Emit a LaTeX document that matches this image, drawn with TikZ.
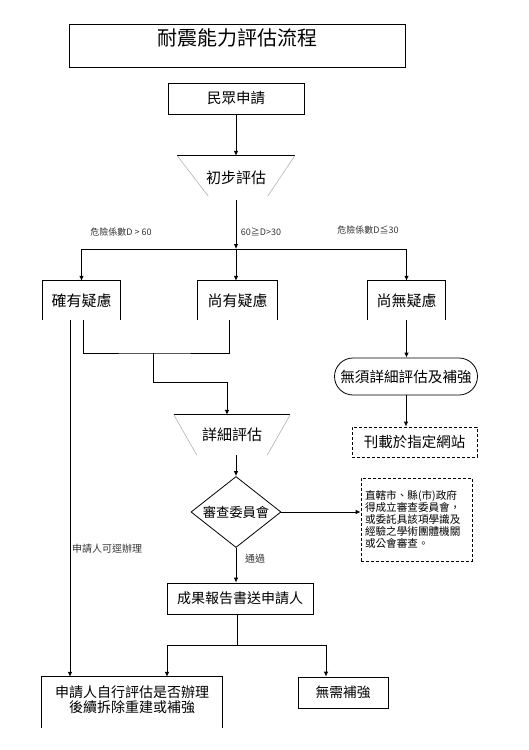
\documentclass[tikz,border=0pt]{standalone}
\usepackage{fontspec}
\setmainfont{Noto Sans CJK TC}
\usetikzlibrary{arrows.meta,shapes.misc,shapes.geometric}
\newcommand\myfs[1]{\fontsize{#1pt}{#1pt}\selectfont}
\newcommand\myfsb[2]{\fontsize{#1pt}{#2pt}\selectfont}
\begin{document}
\begin{tikzpicture}[x=1pt,y=-1pt,
  ln/.style={line width=0.8pt},
  arr/.style={line width=0.8pt,-{Latex[length=5pt,width=4.5pt]}},
  box/.style={draw,line width=0.8pt,inner sep=0pt,minimum height=31pt},
  ghost/.style={inner sep=0pt},
  dbox/.style={draw,line width=0.8pt,dash pattern=on 3pt off 2pt,inner sep=0pt},
  lbl/.style={inner sep=0pt,font=\myfs{9},text=black!80},
  side/.style={line width=0.6pt,draw=gray!60}]
\useasboundingbox (0,0) rectangle (528,750);

% title
\node[draw,line width=0.8pt,minimum width=336pt,minimum height=43pt,inner sep=0pt] (title) at (237,45.5) {};
\node[ghost,font=\myfs{20}] (titlet) at (237,38) {耐震能力評估流程};

% apply
\node[box,minimum width=136pt,font=\myfs{14.5}] (apply) at (236,98.5) {民眾申請};

% preliminary (trapezoid, open bottom)
\node[ghost,minimum width=117pt,minimum height=44pt,font=\myfs{15}] (prelim) at (236,178) {初步評估};
\draw[ln] (prelim.north west) -- (prelim.north east);
\draw[side] (prelim.north west) -- ([xshift=31pt,yshift=4pt]prelim.south west);
\draw[side] (prelim.north east) -- ([xshift=-27pt,yshift=4pt]prelim.south east);
\draw[arr] (apply.south) -- (prelim.north);

% branch
\coordinate (bL) at (81.5,249);
\coordinate (bM) at (236,249);
\coordinate (bR) at (406.5,249);
\draw[ln] (bL) -- (bR);
\draw[arr] (prelim.south) -- (bM);

\node[lbl] (l1) at (121,232) {危險係數D > 60};
\node[lbl] (l2) at (261,232) {60≧D>30};
\node[lbl] (l3) at (368,230) {危險係數D≦30};

% three open-bottom boxes
\node[ghost,minimum width=77pt,minimum height=39pt,font=\myfs{15}] (b1) at (81.5,300.5) {確有疑慮};
\node[ghost,minimum width=79pt,minimum height=39pt,font=\myfs{15}] (b2) at (237.5,300.5) {尚有疑慮};
\node[ghost,minimum width=77pt,minimum height=39pt,font=\myfs{15}] (b3) at (406.5,300.5) {尚無疑慮};
\foreach \b in {b1,b2,b3}{
  \draw[ln] (\b.south west) -- (\b.north west) -- (\b.north east) -- (\b.south east);
}
\draw[arr] (bL) -- (b1.north);
\draw[arr] (bM) -- (bM |- b2.north);
\draw[arr] (bR) -- (b3.north);

% merge of b1 and b2 into detailed evaluation
\coordinate (m1) at (153,353);
\coordinate (m2) at (153,382);
\draw[ln] ([xshift=2pt]b1.south) |- (m1) -| ([xshift=-8.5pt]b2.south);

\node[ghost,minimum width=116pt,minimum height=40pt,font=\myfs{15}] (detail) at (232,435) {詳細評估};
\draw[ln] (detail.north west) -- (detail.north east);
\draw[side] (detail.north west) -- ([xshift=23pt]detail.south west);
\draw[side] (detail.north east) -- ([xshift=-23pt]detail.south east);
\draw[arr] (m1) -- (m2) -| ([xshift=-5pt]detail.north);

% review committee diamond
\node[diamond,draw,line width=0.8pt,inner sep=0pt,aspect=1.27,minimum width=90pt,minimum height=71pt,font=\myfs{13.3}] (rev) at (236,512) {審查委員會};
\draw[arr] ([xshift=4pt]detail.south) -- (rev.north);

% note
\node[dbox,minimum width=111pt,minimum height=83pt,text width=103pt,align=left,inner xsep=4pt,font=\myfsb{10.6}{12.2}] (note) at (416.5,519.5) {直轄市、縣(市)政府\\得成立審查委員會，\\或委託具該項學識及\\經驗之學術團體機關\\或公會審查。};
\draw[arr] (rev.east) -- (rev.east -| note.west);

% pass
\node[lbl,font=\myfs{10}] (pass) at (255,559) {通過};
\node[box,minimum width=146pt,font=\myfs{14}] (res) at (240,598.5) {成果報告書送申請人};
\draw[arr] (rev.south) -- (rev.south |- res.north);

% final boxes
\node[ghost,minimum width=180pt,minimum height=51pt] (fin1) at (132,702.5) {};
\node[ghost,align=center,font=\myfsb{14}{15.5}] (fin1t) at (132,699.5) {申請人自行評估是否辦理\\後續拆除重建或補強};
\draw[ln] (fin1.south west) -- (fin1.north west) -- (fin1.north east) -- (fin1.south east);
\node[box,minimum width=90pt,font=\myfs{13.75}] (fin2) at (343,692.5) {無需補強};

\coordinate (j2) at (237,645);
\draw[ln] (j2 |- res.south) -- (j2);
\draw[arr] (j2) -| ([xshift=35pt]fin1.north);
\draw[arr] (j2) -| ([xshift=-17pt]fin2.north);

% direct path
\draw[arr] ([xshift=-11.5pt]b1.south) -- ([xshift=-11.5pt]b1.south |- fin1.north);
\node[lbl,font=\myfs{10}] (direct) at (107,549) {申請人可逕辦理};

% no doubt branch
\node[rounded rectangle,draw,line width=0.8pt,inner sep=0pt,minimum width=143pt,minimum height=37pt,font=\myfs{14.6}] (nodet) at (406,376.5) {無須詳細評估及補強};
\draw[arr] (b3.south) -- (b3.south |- nodet.north);
\node[dbox,minimum width=125pt,minimum height=30pt,font=\myfs{14.5}] (web) at (414.5,442) {刊載於指定網站};
\draw[arr] (nodet.south) -- (nodet.south |- web.north);
\end{tikzpicture}
\end{document}
